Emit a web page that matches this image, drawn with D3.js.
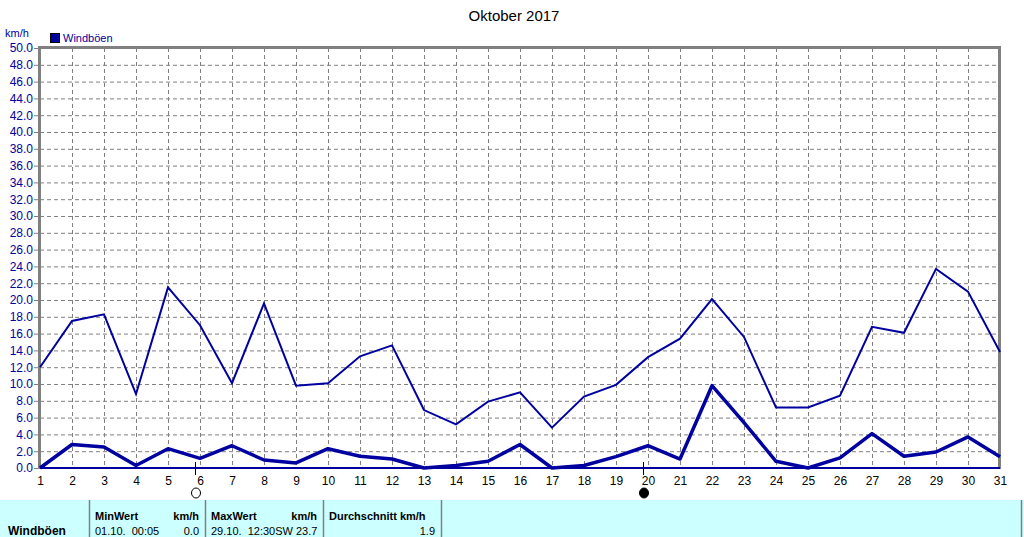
<!DOCTYPE html>
<html><head><meta charset="utf-8">
<script src="https://cdn.jsdelivr.net/npm/d3@7/dist/d3.min.js"></script>
<style>
html,body{margin:0;padding:0;background:#fff;}
svg{display:block;font-family:"Liberation Sans",Arial,sans-serif;}
</style></head><body>
<svg id="c" width="1024" height="537"></svg>
<script>
const days = d3.range(1, 32);
const gustMax = [12.0,17.5,18.3,8.8,21.5,17.0,10.1,19.6,9.8,10.1,13.3,14.6,6.9,5.2,7.9,9.0,4.8,8.5,9.9,13.2,15.4,20.1,15.6,7.2,7.2,8.6,16.8,16.1,23.7,21.0,13.8];
const gustAvg = [0.0,2.8,2.5,0.3,2.3,1.15,2.65,0.95,0.6,2.3,1.4,1.07,0.0,0.3,0.8,2.8,0.0,0.3,1.35,2.65,1.07,9.8,5.4,0.8,0.0,1.2,4.1,1.4,1.9,3.7,1.35];
const yTicks = d3.range(0, 50.001, 2);
const moonDays = [{day:6, type:"full"},{day:20, type:"new"}];
const tableCols = [
  {x0:89, head:"MinWert", unit:"km/h", val1:"01.10.  00:05", val2:"0.0"},
  {x0:205, head:"MaxWert", unit:"km/h", val1:"29.10.  12:30SW 23.7", val2:""},
  {x0:323, head:"Durchschnitt km/h", unit:"", val1:"", val2:"1.9"}
];

const svg = d3.select("#c");
const blue = "#0000a0";
const x = d3.scaleLinear().domain([1,31]).range([40,1000]);
const y = d3.scaleLinear().domain([0,50]).range([468,48]);

// title
svg.append("text").attr("x",514).attr("y",21).attr("text-anchor","middle")
  .attr("font-size",15).attr("fill","#000").text("Oktober 2017");

// grid
const g = svg.append("g");
g.selectAll(".hg").data(yTicks.filter(v=>v>0 && v<50)).join("line")
  .attr("x1",40).attr("x2",1000).attr("y1",d=>y(d)+0.5).attr("y2",d=>y(d)+0.5)
  .attr("stroke","#808080").attr("stroke-dasharray","4,3");
g.selectAll(".vg").data(days.filter(d=>d>1 && d<31)).join("line")
  .attr("x1",d=>Math.round(x(d))+0.5).attr("x2",d=>Math.round(x(d))+0.5).attr("y1",48).attr("y2",468)
  .attr("stroke","#808080").attr("stroke-dasharray","4,3");

// frame
svg.append("line").attr("x1",39).attr("x2",1001).attr("y1",47.5).attr("y2",47.5).attr("stroke","#808080").attr("stroke-width",3);
svg.append("line").attr("x1",39.5).attr("x2",39.5).attr("y1",46).attr("y2",469).attr("stroke","#808080").attr("stroke-width",3);
svg.append("line").attr("x1",999.5).attr("x2",999.5).attr("y1",46).attr("y2",469).attr("stroke","#808080").attr("stroke-width",3);

// y axis
const yAxis = d3.axisLeft(y).tickValues(yTicks).tickFormat(d3.format(".1f")).tickSize(4).tickPadding(1);
const ya = svg.append("g").attr("transform","translate(38,0)").call(yAxis);
ya.select(".domain").remove();
ya.selectAll(".tick line").attr("stroke","#808080");
ya.selectAll("text").attr("fill",blue).attr("font-size",12).attr("font-family","Liberation Sans, Arial, sans-serif");

// x axis labels
const xAxis = d3.axisBottom(x).tickValues(days).tickFormat(d3.format("d")).tickSize(0).tickPadding(8);
const xa = svg.append("g").attr("transform","translate(0,468)").call(xAxis);
xa.select(".domain").remove();
xa.selectAll("text").attr("fill","#000").attr("font-size",12).attr("font-family","Liberation Sans, Arial, sans-serif");

// zero line
svg.append("line").attr("x1",40).attr("x2",1000).attr("y1",468).attr("y2",468).attr("stroke",blue).attr("stroke-width",2);

// lines
const line = (arr)=>d3.line().x((d,i)=>x(days[i])).y(d=>y(d))(arr);
svg.append("path").attr("d",line(gustMax)).attr("fill","none").attr("stroke",blue).attr("stroke-width",2).attr("stroke-linejoin","miter");
svg.append("path").attr("d",line(gustAvg)).attr("fill","none").attr("stroke",blue).attr("stroke-width",3.5).attr("stroke-linejoin","round");

// moon markers
moonDays.forEach(m=>{
  const mx = Math.round(x(m.day))-4.5;
  svg.append("line").attr("x1",mx).attr("x2",mx).attr("y1",462).attr("y2",475).attr("stroke","#000").attr("stroke-width",1);
  svg.append("ellipse").attr("cx",mx+0.5).attr("cy",493).attr("rx",4.5).attr("ry",5)
    .attr("fill",m.type==="new"?"#000":"#fff").attr("stroke","#000").attr("stroke-width",1);
});

// legend
svg.append("text").attr("x",5).attr("y",37).attr("font-size",11).attr("fill",blue).text("km/h");
svg.append("rect").attr("x",50.5).attr("y",33.5).attr("width",9).attr("height",9).attr("fill",blue).attr("stroke","#000");
svg.append("text").attr("x",63).attr("y",42).attr("font-size",11).attr("fill",blue).text("Windböen");

// table
svg.append("rect").attr("x",0).attr("y",500).attr("width",1024).attr("height",37).attr("fill","#ccffff");
[89,205,323,441,1021].forEach(v=>{
  svg.append("line").attr("x1",v+0.5).attr("x2",v+0.5).attr("y1",500).attr("y2",537).attr("stroke","#808080").attr("stroke-width",1.5);
});
svg.append("text").attr("x",8).attr("y",535).attr("font-size",12).attr("font-weight","bold").attr("fill","#000").text("Windböen");
tableCols.forEach((c,i)=>{
  const next = [205,323,441][i];
  svg.append("text").attr("x",c.x0+6).attr("y",520).attr("font-size",11).attr("font-weight","bold").text(c.head);
  if(c.unit) svg.append("text").attr("x",next-6).attr("y",520).attr("text-anchor","end").attr("font-size",11).attr("font-weight","bold").text(c.unit);
  if(c.val1) svg.append("text").attr("x",c.x0+6).attr("y",535).attr("font-size",11).attr("xml:space","preserve").style("white-space","pre").text(c.val1);
  if(c.val2) svg.append("text").attr("x",next-6).attr("y",535).attr("text-anchor","end").attr("font-size",11).text(c.val2);
});
</script>
</body></html>
